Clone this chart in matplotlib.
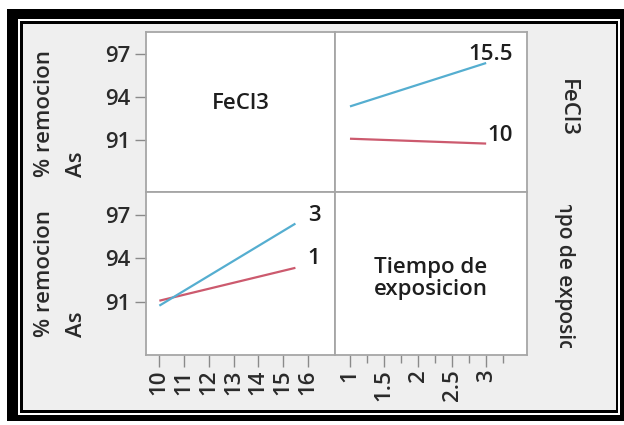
import matplotlib
matplotlib.use('Agg')
import matplotlib.pyplot as plt
from matplotlib.patches import Rectangle
from matplotlib.transforms import Bbox, TransformedBbox

# ---------------- data ----------------
fecl3_levels = [10, 15.5]
time_levels = [1, 3]
# mean % removal of As at (FeCl3, time)
mean_fecl3_10 = [91.08, 90.74]     # time = 1, 3
mean_fecl3_15_5 = [93.34, 96.38]   # time = 1, 3
mean_time_1 = [91.08, 93.34]       # FeCl3 = 10, 15.5
mean_time_3 = [90.74, 96.38]       # FeCl3 = 10, 15.5

y_ticks = [91, 94, 97]
fecl3_ticks = [10, 11, 12, 13, 14, 15, 16]
time_ticks = [1, 1.5, 2, 2.5, 3]
time_ticks_labels = ['1', '1.5', '2', '2.5', '3']
time_minor = [1.25, 1.75, 2.25, 2.75, 3.25]

y_label_line1 = '% remocion'
y_label_line2 = 'As'
factor1 = 'FeCl3'
factor2 = 'Tiempo de exposicion'
factor2_diag = 'Tiempo de\nexposicion'

# ---------------- style ----------------
plt.rcParams['font.family'] = ['Open Sans', 'DejaVu Sans']
plt.rcParams['font.weight'] = 'semibold'
FS = 16
RED = '#cc5a6e'
BLUE = '#55aed0'
TXT = '#1e1e1e'
TICKTXT = '#2a2a2a'
SPINE = '#a6a6a6'
TICKC = '#8a8a8a'

W, H = 624, 425
fig = plt.figure(figsize=(W / 100, H / 100), dpi=100, facecolor='white')


def fx(px):
    return px / W


def fy(py):
    return 1 - py / H


def frect(x0, y0, x1, y1, color, z):
    fig.add_artist(Rectangle((fx(x0), fy(y1)), fx(x1) - fx(x0), fy(y0) - fy(y1),
                             transform=fig.transFigure, facecolor=color,
                             edgecolor='none', zorder=z))


# frame decoration
frect(7, 9, 624, 421, 'black', -10)
frect(18, 19, 620, 415, 'white', -9)
frect(20, 21, 618, 413, 'black', -8)
frect(23, 24, 616, 410, '#efefef', -7)


def add_ax(x0, y0, x1, y1):
    ax = fig.add_axes([fx(x0), fy(y1), fx(x1) - fx(x0), fy(y0) - fy(y1)])
    ax.set_facecolor('white')
    for s in ax.spines.values():
        s.set_color(SPINE)
        s.set_linewidth(1.3)
    return ax


ax_tl = add_ax(146, 32, 335, 192)
ax_tr = add_ax(335, 32, 527, 192)
ax_bl = add_ax(146, 192, 335, 355)
ax_br = add_ax(335, 192, 527, 355)

YLIM = (87.35, 98.55)
XL = (9.46, 17.1)
XR = (0.78, 3.6)
for ax in (ax_tl, ax_bl):
    ax.set_xlim(*XL)
for ax in (ax_tr, ax_br):
    ax.set_xlim(*XR)
for ax in (ax_tl, ax_tr, ax_bl, ax_br):
    ax.set_ylim(*YLIM)
    ax.set_xticks([])
    ax.set_yticks([])

# y ticks on left column
for ax in (ax_tl, ax_bl):
    ax.set_yticks(y_ticks, [str(v) for v in y_ticks])
    ax.tick_params(axis='y', direction='out', length=8, width=1.0, color=TICKC,
                   labelcolor=TICKTXT, labelsize=FS, pad=3)

# x ticks on bottom row
ax_bl.set_xticks(fecl3_ticks, [str(v) for v in fecl3_ticks], rotation=90)
ax_bl.tick_params(axis='x', direction='out', length=8.6, width=1.0, color=TICKC,
                  labelcolor=TICKTXT, labelsize=FS, pad=2)
ax_br.set_xticks(time_ticks, time_ticks_labels, rotation=90)
ax_br.set_xticks(time_minor, minor=True)
ax_br.tick_params(axis='x', which='major', direction='out', length=8.6, width=1.0,
                  color=TICKC, labelcolor=TICKTXT, labelsize=FS, pad=2)
ax_br.tick_params(axis='x', which='minor', direction='out', length=5.8, width=1.0,
                  color=TICKC)

LW = 1.6
# top-right: x = time, lines per FeCl3 level
ax_tr.plot(time_levels, mean_fecl3_10, color=RED, lw=LW, solid_capstyle='butt')
ax_tr.plot(time_levels, mean_fecl3_15_5, color=BLUE, lw=LW, solid_capstyle='butt')
ax_tr.annotate('10', xy=(time_levels[-1], mean_fecl3_10[-1]), xytext=(27, 8),
               textcoords='offset pixels', ha='right', va='center', fontsize=FS, color=TXT)
ax_tr.annotate('15.5', xy=(time_levels[-1], mean_fecl3_15_5[-1]), xytext=(27, 8),
               textcoords='offset pixels', ha='right', va='center', fontsize=FS, color=TXT)

# bottom-left: x = FeCl3, lines per time level
ax_bl.plot(fecl3_levels, mean_time_1, color=RED, lw=LW, solid_capstyle='butt')
ax_bl.plot(fecl3_levels, mean_time_3, color=BLUE, lw=LW, solid_capstyle='butt')
ax_bl.annotate('1', xy=(fecl3_levels[-1], mean_time_1[-1]), xytext=(25, 9),
               textcoords='offset pixels', ha='right', va='center', fontsize=FS, color=TXT)
ax_bl.annotate('3', xy=(fecl3_levels[-1], mean_time_3[-1]), xytext=(25, 8),
               textcoords='offset pixels', ha='right', va='center', fontsize=FS, color=TXT)

# diagonal panel names
fig.text(fx(240.5), fy(103.5), factor1, ha='center', va='center', fontsize=FS, color=TXT)
fig.text(fx(431), fy(278.5), factor2_diag, ha='center', va='center', fontsize=FS,
         color=TXT, linespacing=1.0, multialignment='center')

# y-axis labels (two lines)
for ybot in (177, 337):
    fig.text(fx(44), fy(ybot), y_label_line1, rotation=90, ha='center', va='bottom',
             fontsize=FS, color=TICKTXT)
    fig.text(fx(76), fy(ybot), y_label_line2, rotation=90, ha='center', va='bottom',
             fontsize=FS, color=TICKTXT)

# right-side row labels
fig.text(fx(567), fy(108), factor1, rotation=270, ha='center', va='center',
         fontsize=FS, color=TICKTXT)
t = fig.text(fx(565), fy(272), factor2, rotation=270, ha='center', va='center',
             fontsize=15, color=TICKTXT)
t.set_clip_box(TransformedBbox(Bbox.from_extents(fx(530), fy(348), fx(612), fy(205)),
                               fig.transFigure))
t.set_clip_on(True)

fig.savefig('out.png', dpi=100, facecolor='white')
